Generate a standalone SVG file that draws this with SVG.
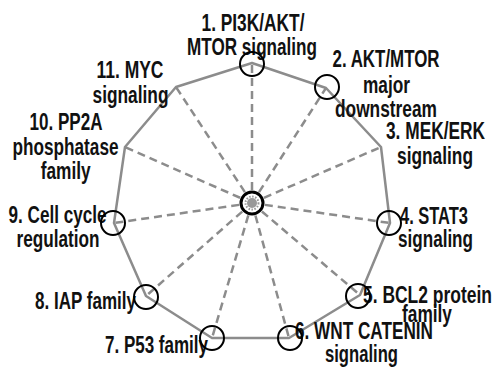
<svg xmlns="http://www.w3.org/2000/svg" width="494" height="369" viewBox="0 0 494 369">
<style>
.bg{fill:#ffffff}
.poly{fill:none;stroke:#8c8c8c;stroke-width:2.5;stroke-linejoin:round}
.spoke{stroke:#8c8c8c;stroke-width:2.5;stroke-dasharray:8,5;fill:none}
.ring{fill:none;stroke:#000;stroke-width:2}
.lbl{font-family:"Liberation Sans",Arial,sans-serif;font-weight:bold;font-size:23px;fill:#111;text-anchor:middle}
</style>
<rect class="bg" x="0" y="0" width="494" height="369"/>
<g id="connectors">
<polygon class="poly" points="252,63 326,88 381,147 390,223 360,295 289,338 212,338 146,296 114,223 125,147 176,87"/>
<line class="spoke" x1="252" y1="203" x2="252" y2="63"/>
<line class="spoke" x1="252" y1="203" x2="326" y2="88"/>
<line class="spoke" x1="252" y1="203" x2="381" y2="147"/>
<line class="spoke" x1="252" y1="203" x2="390" y2="223"/>
<line class="spoke" x1="252" y1="203" x2="360" y2="295"/>
<line class="spoke" x1="252" y1="203" x2="289" y2="338"/>
<line class="spoke" x1="252" y1="203" x2="212" y2="338"/>
<line class="spoke" x1="252" y1="203" x2="146" y2="296"/>
<line class="spoke" x1="252" y1="203" x2="114" y2="223"/>
<line class="spoke" x1="252" y1="203" x2="125" y2="147"/>
<line class="spoke" x1="252" y1="203" x2="176" y2="87"/>
</g>
<g id="center">
<circle cx="252" cy="203" r="11" fill="#fff" stroke="#000" stroke-width="3"/>
<circle cx="252" cy="203" r="5" fill="#999"/>
<circle cx="252" cy="203" r="6.5" fill="none" stroke="#999" stroke-width="2" stroke-dasharray="1.5,1.5"/>
</g>
<g id="n1">
<text class="lbl" x="253" y="31" textLength="103" lengthAdjust="spacingAndGlyphs">1. PI3K/AKT/</text>
<text class="lbl" x="252" y="55" textLength="130" lengthAdjust="spacingAndGlyphs">MTOR signaling</text>
<circle class="ring" cx="252" cy="64" r="12"/>
</g>
<g id="n2">
<text class="lbl" x="386" y="67" textLength="107" lengthAdjust="spacingAndGlyphs">2. AKT/MTOR</text>
<text class="lbl" x="386.5" y="93" textLength="47" lengthAdjust="spacingAndGlyphs">major</text>
<text class="lbl" x="386" y="117" textLength="102" lengthAdjust="spacingAndGlyphs">downstream</text>
<circle class="ring" cx="327" cy="87" r="12"/>
</g>
<g id="n3">
<text class="lbl" x="435.5" y="139" textLength="99" lengthAdjust="spacingAndGlyphs">3. MEK/ERK</text>
<text class="lbl" x="435" y="164" textLength="76" lengthAdjust="spacingAndGlyphs">signaling</text>
</g>
<g id="n4">
<text class="lbl" x="434" y="224" textLength="68" lengthAdjust="spacingAndGlyphs">4. STAT3</text>
<text class="lbl" x="435.5" y="247" textLength="75" lengthAdjust="spacingAndGlyphs">signaling</text>
<circle class="ring" cx="389" cy="223" r="12"/>
</g>
<g id="n5">
<text class="lbl" x="427.5" y="303" textLength="129" lengthAdjust="spacingAndGlyphs">5. BCL2 protein</text>
<text class="lbl" x="427" y="322" textLength="50" lengthAdjust="spacingAndGlyphs">family</text>
<circle class="ring" cx="358" cy="296" r="12"/>
</g>
<g id="n6">
<text class="lbl" x="364" y="339" textLength="138" lengthAdjust="spacingAndGlyphs">6. WNT CATENIN</text>
<text class="lbl" x="361.5" y="362" textLength="73" lengthAdjust="spacingAndGlyphs">signaling</text>
<circle class="ring" cx="290" cy="338" r="12"/>
</g>
<g id="n7">
<text class="lbl" x="156.5" y="353" textLength="103" lengthAdjust="spacingAndGlyphs">7. P53 family</text>
<circle class="ring" cx="212" cy="338" r="12"/>
</g>
<g id="n8">
<text class="lbl" x="85.5" y="309" textLength="101" lengthAdjust="spacingAndGlyphs">8. IAP family</text>
<circle class="ring" cx="146" cy="297" r="12"/>
</g>
<g id="n9">
<text class="lbl" x="57.5" y="223" textLength="98" lengthAdjust="spacingAndGlyphs">9. Cell cycle</text>
<text class="lbl" x="58" y="247" textLength="83" lengthAdjust="spacingAndGlyphs">regulation</text>
<circle class="ring" cx="113" cy="223" r="12"/>
</g>
<g id="n10">
<text class="lbl" x="66" y="130" textLength="73" lengthAdjust="spacingAndGlyphs">10. PP2A</text>
<text class="lbl" x="65.5" y="155" textLength="106" lengthAdjust="spacingAndGlyphs">phosphatase</text>
<text class="lbl" x="65.7" y="179" textLength="50" lengthAdjust="spacingAndGlyphs">family</text>
</g>
<g id="n11">
<text class="lbl" x="130" y="78" textLength="67" lengthAdjust="spacingAndGlyphs">11. MYC</text>
<text class="lbl" x="130.5" y="103" textLength="76" lengthAdjust="spacingAndGlyphs">signaling</text>
</g>
</svg>
